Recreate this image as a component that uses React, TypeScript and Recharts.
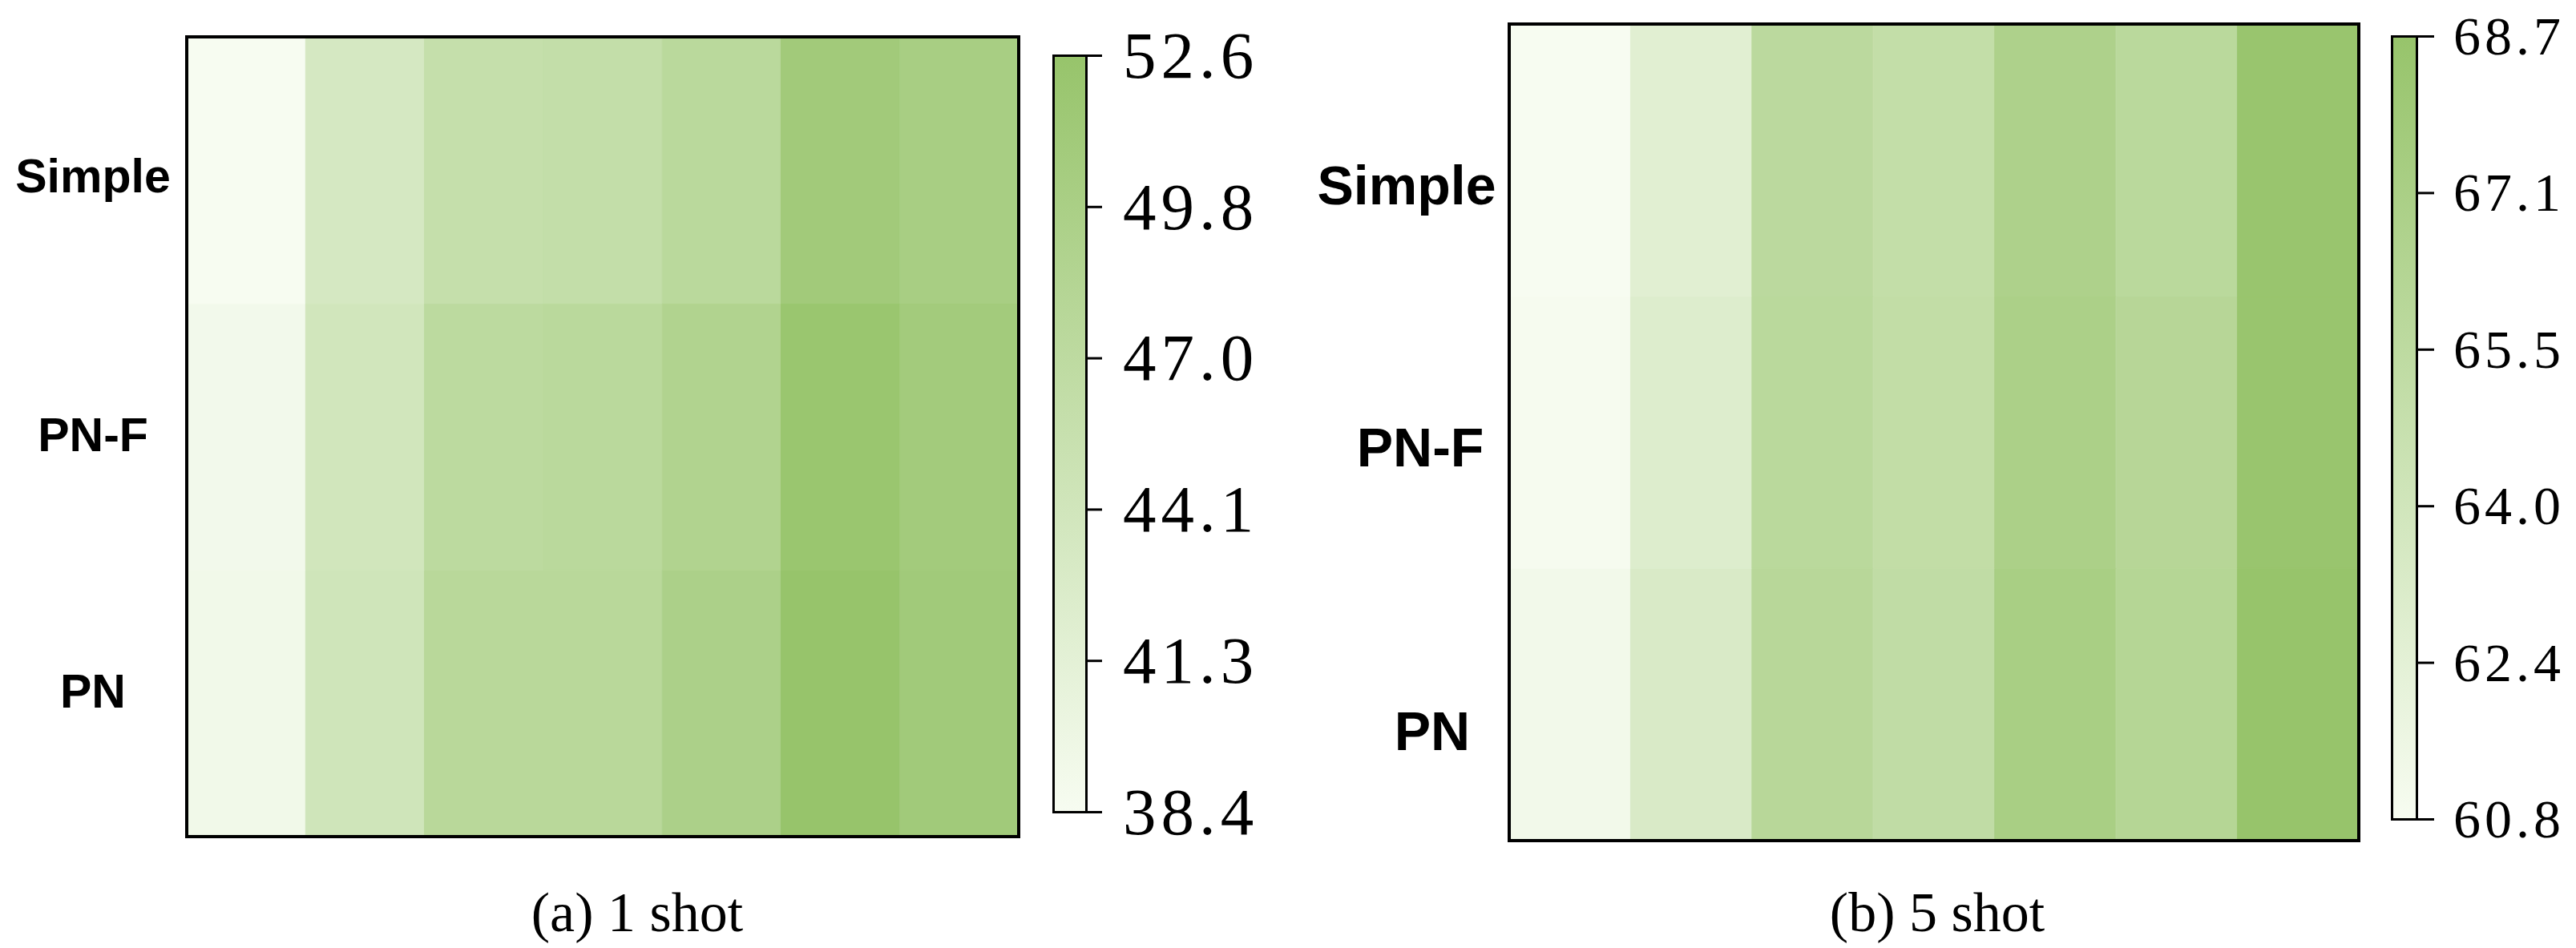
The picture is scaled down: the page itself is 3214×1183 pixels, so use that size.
import React from 'react';
import { BarChart, Bar, XAxis, YAxis, Cell } from 'recharts';

// ---------- data ----------
const columns = ['1', '2', '3', '4', '5', '6', '7'];
const rowLabels = ['Simple', 'PN-F', 'PN']; // top to bottom

const oneShotSimple = [38.42, 43.4, 45.9, 46.1, 47.4, 51.0, 50.1];
const oneShotPNF = [39.1, 44.0, 47.1, 47.4, 48.8, 52.2, 50.8];
const oneShotPN = [39.3, 44.3, 47.6, 47.6, 49.5, 52.64, 51.1];
const oneShotRange = [38.42, 52.64];
const oneShotTickLabels = ['38.4', '41.3', '44.1', '47.0', '49.8', '52.6'];

const fiveShotSimple = [60.8, 62.6, 65.7, 65.1, 66.8, 65.8, 68.5];
const fiveShotPNF = [60.9, 62.9, 65.8, 65.2, 67.0, 66.1, 68.5];
const fiveShotPN = [61.2, 63.3, 66.0, 65.3, 67.2, 66.2, 68.7];
const fiveShotRange = [60.8, 68.7];
const fiveShotTickLabels = ['60.8', '62.4', '64.0', '65.5', '67.1', '68.7'];

const captions = ['(a) 1 shot', '(b) 5 shot'];

// ---------- colour map ----------
const LOW = [247, 252, 241];
const HIGH = [151, 196, 107];
const rgb = (c: number[]) => `rgb(${c.map((x) => Math.round(x)).join(',')})`;
function colorFor(v: number, range: number[]) {
  let t = (v - range[0]) / (range[1] - range[0]);
  t = Math.max(0, Math.min(1, t));
  return rgb(LOW.map((l, i) => l + (HIGH[i] - l) * t));
}

const axisStyle = { stroke: '#000', strokeWidth: 4, strokeLinecap: 'square' as const };

type Margin = { top: number; right: number; bottom: number; left: number };

type HeatProps = {
  simple: number[];
  pnf: number[];
  pn: number[];
  range: number[];
  left: number;
  width: number;
  height: number;
  plot: Margin;
  labelOffset: number[]; // per row, top to bottom
  labelDy: number[]; // per row, top to bottom
  labelSize: number;
};

function Heatmap(p: HeatProps) {
  const data = columns.map((c) => ({ col: c, hPN: 1, hPNF: 1, hSimple: 1 }));
  const series = [
    { key: 'hPN', vals: p.pn },
    { key: 'hPNF', vals: p.pnf },
    { key: 'hSimple', vals: p.simple },
  ];
  const rowIndexFor = (v: number) => rowLabels.length - 1 - Math.round(v - 0.5);
  const margin = {
    top: p.plot.top - 1,
    bottom: p.plot.bottom - 1,
    left: p.plot.left - 1,
    right: p.plot.right - 1,
  };
  return (
    <div style={{ position: 'absolute', left: p.left, top: 0 }}>
      <BarChart width={p.width} height={p.height} data={data} margin={margin} barCategoryGap={0} barGap={0}>
        {series.map((s) => (
          <Bar key={s.key} dataKey={s.key} stackId="cells" xAxisId="b" yAxisId="l" isAnimationActive={false}>
            {s.vals.map((v, i) => (
              <Cell key={i} fill={colorFor(v, p.range)} stroke={colorFor(v, p.range)} strokeWidth={1} />
            ))}
          </Bar>
        ))}
        <XAxis xAxisId="b" dataKey="col" type="category" height={1} tick={false} tickLine={false} axisLine={axisStyle} />
        <XAxis xAxisId="t" dataKey="col" type="category" orientation="top" height={1} tick={false} tickLine={false} axisLine={axisStyle} />
        <YAxis
          yAxisId="l"
          type="number"
          domain={[0, 3]}
          ticks={[0.5, 1.5, 2.5]}
          interval={0}
          width={1}
          tickSize={0}
          tickMargin={0}
          tickLine={false}
          axisLine={axisStyle}
          tick={(tp: any) => {
            const r = rowIndexFor(tp.payload.value);
            return (
              <text
                x={tp.x - p.labelOffset[r]}
                y={tp.y + p.labelDy[r]}
                textAnchor="middle"
                dominantBaseline="central"
                fontFamily="'Liberation Sans', Arial, sans-serif"
                fontWeight="bold"
                fontSize={p.labelSize}
                fill="#000"
              >
                {rowLabels[r]}
              </text>
            );
          }}
        />
        <YAxis yAxisId="r" type="number" orientation="right" domain={[0, 3]} width={1} tick={false} tickLine={false} axisLine={axisStyle} />
      </BarChart>
    </div>
  );
}

type BarProps = {
  id: string;
  range: number[];
  labels: string[];
  left: number;
  width: number;
  height: number;
  plot: Margin;
  tickSize: number;
  tickMargin: number;
  fontSize: number;
  letterSpacing: number;
};

function ColorBar(p: BarProps) {
  const [lo, hi] = p.range;
  const tickVals = p.labels.map((_, k) => lo + (k * (hi - lo)) / (p.labels.length - 1));
  const margin = { ...p.plot, right: p.plot.right - 1 };
  return (
    <div style={{ position: 'absolute', left: p.left, top: 0 }}>
      <BarChart width={p.width} height={p.height} data={[{ name: 'cb', span: [lo, hi] }]} margin={margin} barCategoryGap={0}>
        <defs>
          <linearGradient id={p.id} x1="0" y1="1" x2="0" y2="0">
            <stop offset="0%" stopColor={rgb(LOW)} />
            <stop offset="100%" stopColor={rgb(HIGH)} />
          </linearGradient>
        </defs>
        <XAxis dataKey="name" hide />
        <Bar dataKey="span" fill={`url(#${p.id})`} stroke="#000" strokeWidth={3} isAnimationActive={false} />
        <YAxis
          type="number"
          orientation="right"
          domain={[lo, hi]}
          ticks={tickVals}
          interval={0}
          width={1}
          tickSize={p.tickSize}
          tickMargin={p.tickMargin}
          tickLine={{ stroke: '#000', strokeWidth: 3 }}
          axisLine={false}
          tick={(tp: any) => (
            <text
              x={tp.x}
              y={tp.y}
              dy="0.33em"
              textAnchor="start"
              fontFamily="'Liberation Serif', 'Times New Roman', serif"
              fontSize={p.fontSize}
              fill="#000"
              style={{ letterSpacing: `${p.letterSpacing}px` }}
            >
              {p.labels[tp.index]}
            </text>
          )}
        />
      </BarChart>
    </div>
  );
}

export default function App() {
  return (
    <div style={{ position: 'absolute', left: 0, top: 0, width: 3214, height: 1183, background: '#fff', overflow: 'hidden' }}>
      <Heatmap
        simple={oneShotSimple}
        pnf={oneShotPNF}
        pn={oneShotPN}
        range={oneShotRange}
        left={0}
        width={1300}
        height={1100}
        plot={{ top: 46, right: 29, bottom: 56, left: 233 }}
        labelOffset={[117, 117, 117]}
        labelDy={[8, -2, -15]}
        labelSize={59}
      />
      <ColorBar
        id="cbA"
        range={oneShotRange}
        labels={oneShotTickLabels}
        left={1290}
        width={320}
        height={1100}
        plot={{ top: 69.5, right: 254.5, bottom: 86.5, left: 24.5 }}
        tickSize={19.5}
        tickMargin={26}
        fontSize={83}
        letterSpacing={6}
      />
      <Heatmap
        simple={fiveShotSimple}
        pnf={fiveShotPNF}
        pn={fiveShotPN}
        range={fiveShotRange}
        left={1600}
        width={1400}
        height={1100}
        plot={{ top: 30, right: 57, bottom: 51, left: 283 }}
        labelOffset={[128, 111, 96]}
        labelDy={[31, 18, 33]}
        labelSize={68}
      />
      <ColorBar
        id="cbB"
        range={fiveShotRange}
        labels={fiveShotTickLabels}
        left={2950}
        width={264}
        height={1100}
        plot={{ top: 45.5, right: 198.5, bottom: 77.5, left: 34.5 }}
        tickSize={21.5}
        tickMargin={24}
        fontSize={68}
        letterSpacing={5}
      />
      <svg width={3214} height={1183} style={{ position: 'absolute', left: 0, top: 0, pointerEvents: 'none' }}>
        <text x={795} y={1162} textAnchor="middle" fontFamily="'Liberation Serif', 'Times New Roman', serif" fontSize={70} fill="#000">
          {captions[0]}
        </text>
        <text x={2417} y={1162} textAnchor="middle" fontFamily="'Liberation Serif', 'Times New Roman', serif" fontSize={70} fill="#000">
          {captions[1]}
        </text>
      </svg>
    </div>
  );
}
